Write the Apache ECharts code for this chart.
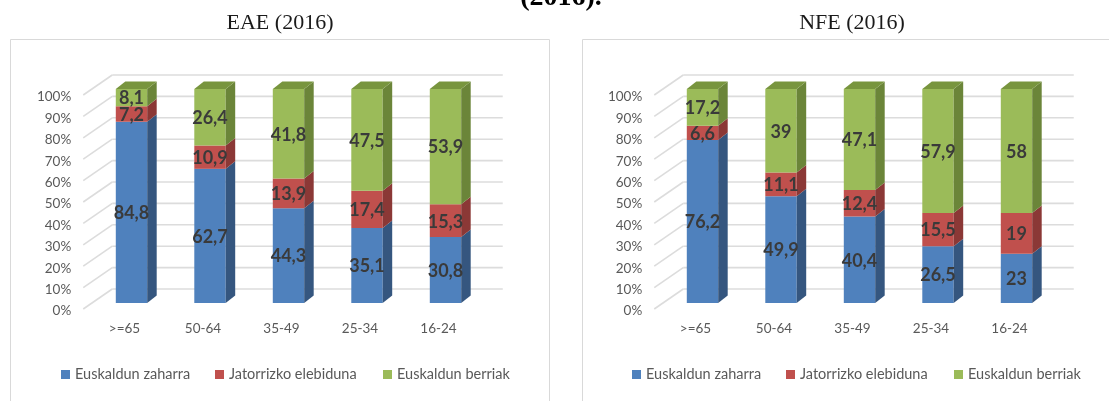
<!DOCTYPE html>
<html>
<head>
<meta charset="utf-8">
<script src="https://cdn.jsdelivr.net/npm/echarts@6/dist/echarts.min.js"></script>
<style>
  html, body { margin: 0; padding: 0; background: #fff; }
  #chart { width: 1109px; height: 401px; }
</style>
</head>
<body>
<div id="chart"></div>
<script>
// adin taldeak
const categories = ['>=65', '50-64', '35-49', '25-34', '16-24'];
const seriesNames = ['Euskaldun zaharra', 'Jatorrizko elebiduna', 'Euskaldun berriak'];
const yTicks = [0, 10, 20, 30, 40, 50, 60, 70, 80, 90, 100];

// EAE (2016)
const eaeZaharra = [84.8, 62.7, 44.3, 35.1, 30.8];
const eaeElebiduna = [7.2, 10.9, 13.9, 17.4, 15.3];
const eaeBerriak = [8.1, 26.4, 41.8, 47.5, 53.9];

// NFE (2016)
const nfeZaharra = [76.2, 49.9, 40.4, 26.5, 23];
const nfeElebiduna = [6.6, 11.1, 12.4, 15.5, 19];
const nfeBerriak = [17.2, 39, 47.1, 57.9, 58];

// koloreak: aurrealdea, alboa, goialdea
const faceColors = [
  { front: '#4F81BD', side: '#35567f', top: '#3d6494' },
  { front: '#C0504D', side: '#8b3836', top: '#9a3e3b' },
  { front: '#9BBB59', side: '#6b8539', top: '#78953e' }
];
const DX = 9.5, DY = -7.5; // sakonera

const chart = echarts.init(document.getElementById('chart'), null, { renderer: 'canvas' });

// 100% metatutako segmentuak
function buildSegments(groups) {
  const out = [[], [], []];
  categories.forEach((c, i) => {
    const total = groups.reduce((s, g) => s + g[i], 0);
    let acc = 0;
    groups.forEach((g, k) => {
      const start = acc / total * 100;
      acc += g[i];
      const end = acc / total * 100;
      out[k].push([i, start, end, g[i], k === groups.length - 1 ? 1 : 0]);
    });
  });
  return out;
}

function barRender(k) {
  return function (params, api) {
    const ci = api.value(0);
    const p0 = api.coord([ci, api.value(1)]);
    const p1 = api.coord([ci, api.value(2)]);
    const bw = api.size([1, 0])[0] * 0.4;
    const x1 = p0[0] - bw / 2, x2 = x1 + bw;
    const yb = p0[1], yt = p1[1];
    const c = faceColors[k];
    const children = [
      { type: 'rect', shape: { x: x1, y: yt, width: bw, height: yb - yt }, style: { fill: c.front } },
      { type: 'polygon', shape: { points: [[x2, yt], [x2 + DX, yt + DY], [x2 + DX, yb + DY], [x2, yb]] }, style: { fill: c.side } }
    ];
    if (api.value(4)) {
      children.push({ type: 'polygon', shape: { points: [[x1, yt], [x2, yt], [x2 + DX, yt + DY], [x1 + DX, yt + DY]] }, style: { fill: c.top } });
    }
    children.push({
      type: 'text',
      style: {
        text: String(api.value(3)).replace('.', ','),
        x: (x1 + x2) / 2, y: (yt + yb) / 2 + 1,
        align: 'center', verticalAlign: 'middle',
        font: 'bold 18px Lato', fill: '#3a3a3a'
      },
      z2: 10
    });
    return { type: 'group', children: children };
  };
}

// 3D sareta: atzeko horma + alboko horma
function gridRender(params, api) {
  const cs = params.coordSys;
  const y = api.coord([0, api.value(0)])[1];
  const style = { stroke: '#dcdcdc', lineWidth: 1.6 };
  return {
    type: 'group',
    children: [
      { type: 'line', shape: { x1: cs.x - 9, y1: y + 6, x2: cs.x + 20, y2: y - 14 }, style: style },
      { type: 'line', shape: { x1: cs.x + 20, y1: y - 14, x2: cs.x + cs.width + 18, y2: y - 14 }, style: style }
    ]
  };
}

const grids = [
  { left: 92.25, top: 89, width: 392.5, height: 214 },
  { left: 663.25, top: 89, width: 392.5, height: 214 }
];

const axisText = { color: '#595959', fontSize: 13.5, fontFamily: 'Lato' };

const xAxes = grids.map((g, i) => ({
  type: 'category', gridIndex: i, data: categories,
  axisLine: { show: false }, axisTick: { show: false }, splitLine: { show: false },
  axisLabel: Object.assign({ margin: 19, padding: [0, 14, 0, 0] }, axisText)
}));

const yAxes = grids.map((g, i) => ({
  type: 'value', gridIndex: i, min: 0, max: 100, interval: 10,
  axisLine: { show: false }, axisTick: { show: false }, splitLine: { show: false },
  axisLabel: Object.assign({ margin: 21, verticalAlign: 'top', lineHeight: 16, formatter: '{value}%' }, axisText)
}));

const segs = [
  buildSegments([eaeZaharra, eaeElebiduna, eaeBerriak]),
  buildSegments([nfeZaharra, nfeElebiduna, nfeBerriak])
];

const series = [];
grids.forEach((g, gi) => {
  series.push({
    type: 'custom', name: 'sareta', xAxisIndex: gi, yAxisIndex: gi, z: 1, silent: true,
    renderItem: gridRender, data: yTicks.map(v => [v])
  });
  seriesNames.forEach((name, k) => {
    series.push({
      type: 'custom', name: name, xAxisIndex: gi, yAxisIndex: gi, z: 2 + k,
      itemStyle: { color: faceColors[k].front },
      renderItem: barRender(k), data: segs[gi][k]
    });
  });
});

// legenda: elementu bakoitza bere lekuan
const legendLeft = [[56, 210, 378], [627, 781, 949]];
const legends = [];
legendLeft.forEach(row => {
  row.forEach((x, k) => {
    legends.push({
      data: [seriesNames[k]], left: x, top: 362, itemWidth: 9, itemHeight: 9,
      icon: 'rect', textStyle: { color: '#595959', fontSize: 14.5, fontFamily: 'Lato' }
    });
  });
});

const option = {
  animation: false,
  grid: grids,
  xAxis: xAxes,
  yAxis: yAxes,
  legend: legends,
  series: series,
  graphic: [
    { type: 'rect', shape: { x: 10.5, y: 39.5, width: 539, height: 400 }, style: { fill: 'none', stroke: '#d9d9d9', lineWidth: 1 }, silent: true },
    { type: 'rect', shape: { x: 582.5, y: 39.5, width: 539, height: 400 }, style: { fill: 'none', stroke: '#d9d9d9', lineWidth: 1 }, silent: true },
    { type: 'text', x: 280, y: 23, style: { text: 'EAE (2016)', align: 'center', verticalAlign: 'middle', font: '22px "Liberation Serif"', fill: '#1a1a1a' } },
    { type: 'text', x: 852, y: 23, style: { text: 'NFE (2016)', align: 'center', verticalAlign: 'middle', font: '22px "Liberation Serif"', fill: '#1a1a1a' } },
    { type: 'text', x: 561, y: -2, style: { text: '(2016).', align: 'center', verticalAlign: 'middle', font: 'bold 28px "Liberation Serif"', fill: '#000' } }
  ]
};

chart.setOption(option, true);
window.addEventListener('resize', function () {
  chart.resize();
});
</script>
</body>
</html>
